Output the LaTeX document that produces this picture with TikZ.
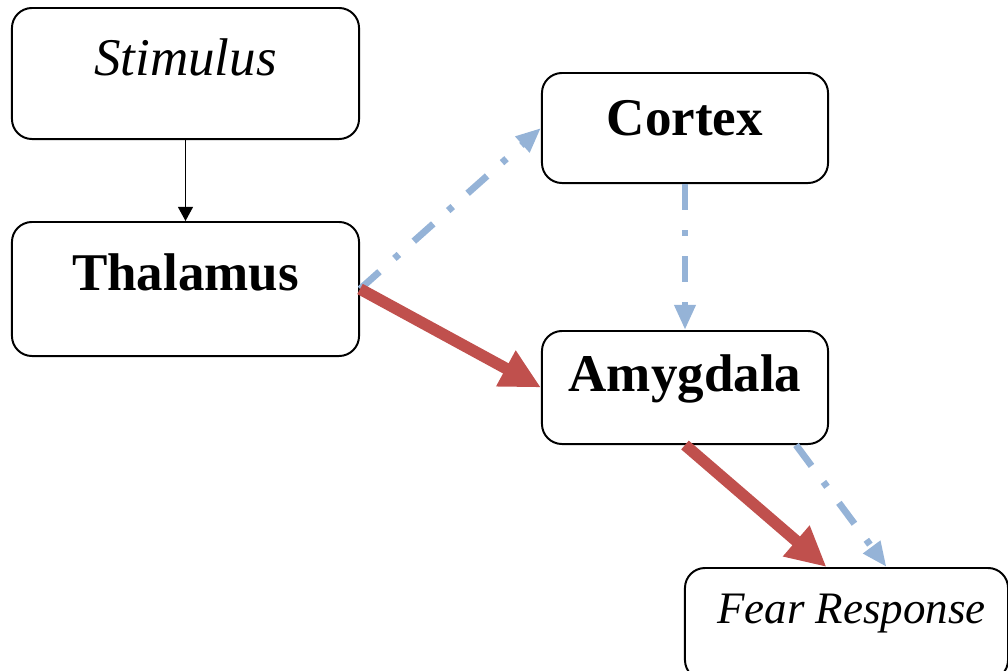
\documentclass[tikz,border=0pt]{standalone}
\usepackage{fontspec}
\setmainfont{Liberation Serif}
\usetikzlibrary{arrows.meta}

\definecolor{lightblue}{HTML}{95B3D7}
\definecolor{darkred}{HTML}{C0504D}

\tikzstyle{element}=[rectangle, draw, line width=1.4pt, inner sep=0pt,
                     rounded corners=0.5cm]
\tikzstyle{bigtext}=[font=\fontsize{37.7pt}{40pt}\selectfont]
\tikzstyle{smalltext}=[font=\fontsize{32pt}{36pt}\selectfont]
\tikzstyle{fast}=[darkred, line width=0.29cm,
                  -{Triangle[length=1cm, width=0.95cm]}]
\tikzstyle{slow}=[lightblue, line width=0.17cm,
                  dash pattern=on 0.65cm off 0.5cm on 0.15cm off 0.5cm,
                  -{Triangle[length=0.625cm, width=0.5cm]}]
\tikzstyle{plain}=[black, line width=1.1pt,
                   -{Triangle[length=0.35cm, width=0.37cm]}]

\begin{document}
\begin{tikzpicture}[x=0.025cm, y=-0.025cm]

  \useasboundingbox (0, 0) rectangle (1008, 671);
  \clip (0, 0) rectangle (1008, 671);

  %%%%%%%%%%%%%%%%%%%%%%%%%%%%%%
  % nodes
  % low road
  \node (stim) at (185.5, 73.5) [element, bigtext, minimum width=8.675cm,
        minimum height=3.275cm, text height=0.84cm, text depth=0.76cm]
        {\textit{Stimulus}};

  \node (thal) at (185.5, 289) [element, bigtext, minimum width=8.675cm,
        minimum height=3.35cm, text height=0.825cm, text depth=0.775cm]
        {\textbf{Thalamus}};

  % high road
  \node (cortex) at (685, 128) [element, bigtext, minimum width=7.15cm,
        minimum height=2.75cm, text height=0.975cm, text depth=0.625cm]
        {\textbf{Cortex}};

  \node (amyg) at (685, 387.5) [element, bigtext, minimum width=7.15cm,
        minimum height=2.825cm, text height=0.91cm, text depth=0.69cm]
        {\textbf{Amygdala}};

  \node (fear) at (846.5, 624) [element, smalltext, minimum width=8.075cm,
        minimum height=2.8cm, text height=0.775cm, text depth=0.825cm]
        {\hspace*{0.25cm}\textit{Fear Response}};

  %%%%%%%%%%%%%%%%%%%%%%%%%%%%%%
  % links
  \draw [plain] (stim) to (thal);

  \draw [slow] (thal.east) to (cortex.west);

  \draw [fast] (thal.east) to (amyg.west);

  \draw [slow] (cortex) to (amyg);

  \draw [fast] (amyg.south) to ([xshift=-0.5cm]fear.north);

  \draw [slow] ([xshift=-0.825cm]amyg.south east) to ([xshift=1cm]fear.north);

\end{tikzpicture}
\end{document}
